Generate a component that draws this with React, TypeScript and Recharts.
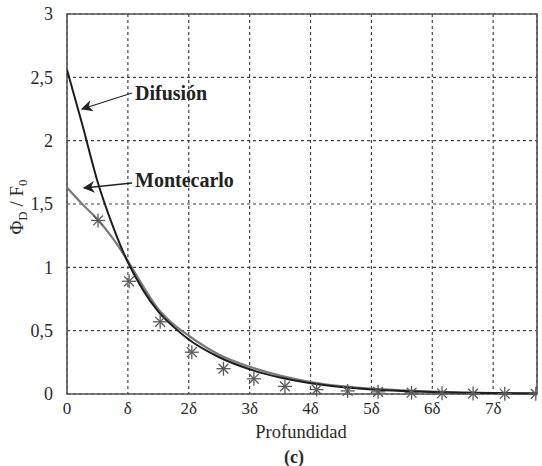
import { ComposedChart, Line, Scatter, XAxis, YAxis, CartesianGrid, ReferenceArea } from 'recharts';

// depth in units of delta
const difusionX = [0, 0.25, 0.5, 0.75, 1, 1.25, 1.5, 1.75, 2, 2.5, 3, 3.5, 4, 4.5, 5, 5.5, 6, 6.5, 7, 7.72];
const difusionY = [2.56, 2.13, 1.68, 1.33, 1.04, 0.82, 0.65, 0.53, 0.43, 0.29, 0.195, 0.13, 0.085, 0.056, 0.036, 0.024, 0.016, 0.01, 0.007, 0.004];

const fitX = [0, 0.25, 0.5, 0.75, 1, 1.25, 1.5, 1.75, 2, 2.5, 3, 3.5, 4, 4.5, 5, 5.5, 6, 6.5, 7, 7.72];
const fitY = [1.63, 1.5, 1.38, 1.23, 1.05, 0.85, 0.67, 0.55, 0.46, 0.31, 0.215, 0.145, 0.095, 0.062, 0.042, 0.028, 0.018, 0.012, 0.008, 0.005];

const mcX = [0.51, 1.02, 1.53, 2.05, 2.57, 3.07, 3.58, 4.1, 4.61, 5.11, 5.66, 6.16, 6.67, 7.19, 7.7];
const mcY = [1.37, 0.89, 0.57, 0.33, 0.2, 0.12, 0.06, 0.035, 0.024, 0.017, 0.01, 0.006, 0.003, 0.002, 0.001];

const xTicks = [0, 1, 2, 3, 4, 5, 6, 7];
const yTicks = [0, 0.5, 1, 1.5, 2, 2.5, 3];

const difusion = difusionX.map((x, i) => ({ x, y: difusionY[i] }));
const fit = fitX.map((x, i) => ({ x, y: fitY[i] }));
const montecarlo = mcX.map((x, i) => ({ x, y: mcY[i] }));

const font = '"Liberation Serif", "DejaVu Serif", serif';
const ink = '#2a2a2a';

const xFmt = (v: number) => (v === 0 ? '0' : v === 1 ? 'δ' : `${v}δ`);
const yFmt = (v: number) => String(v).replace('.', ',');

const Star = (props: any) => {
  const { cx, cy } = props;
  const r = 7;
  const d = r * 0.7;
  return (
    <g stroke="#5a5a5a" strokeWidth={1.3}>
      <line x1={cx - r} y1={cy} x2={cx + r} y2={cy} />
      <line x1={cx} y1={cy - r} x2={cx} y2={cy + r} />
      <line x1={cx - d} y1={cy - d} x2={cx + d} y2={cy + d} />
      <line x1={cx - d} y1={cy + d} x2={cx + d} y2={cy - d} />
    </g>
  );
};

export default function App() {
  return (
    <div style={{ position: 'absolute', left: 0, top: 0, width: 542, height: 466, background: '#fff' }}>
      <ComposedChart width={542} height={466} margin={{ top: 14, right: 5, left: 0, bottom: 0 }}>
        <CartesianGrid stroke="#444" strokeDasharray="3 3" strokeWidth={1.2} />
        <XAxis
          dataKey="x"
          type="number"
          domain={[0, 7.72]}
          ticks={xTicks}
          tickFormatter={xFmt}
          height={72}
          tickLine={false}
          axisLine={false}
          tickMargin={2}
          tick={{ fill: ink, fontSize: 17, fontFamily: font }}
          allowDataOverflow
        />
        <YAxis
          type="number"
          domain={[0, 3]}
          ticks={yTicks}
          tickFormatter={yFmt}
          width={67}
          tickLine={false}
          axisLine={false}
          tickMargin={8}
          tick={{ fill: ink, fontSize: 18, fontFamily: font }}
        />
        <ReferenceArea x1={0} x2={7.72} y1={0} y2={3} fill="none" stroke="#555" strokeWidth={1.6} ifOverflow="visible" />
        <Line data={fit} dataKey="y" type="monotone" stroke="#7a7a7a" strokeWidth={2.2} dot={false} isAnimationActive={false} />
        <Line data={difusion} dataKey="y" type="monotone" stroke="#1e1e1e" strokeWidth={2} dot={false} isAnimationActive={false} />
        <Scatter data={montecarlo} dataKey="y" shape={<Star />} isAnimationActive={false} />
      </ComposedChart>
      <svg width={542} height={466} style={{ position: 'absolute', left: 0, top: 0, pointerEvents: 'none' }}>
        <defs>
          <marker id="ah" viewBox="0 0 10 10" refX="9" refY="5" markerWidth="9" markerHeight="9" orient="auto">
            <path d="M0,0 L10,5 L0,10 L3,5 z" fill="#222" />
          </marker>
        </defs>
        <line x1={132} y1={93} x2={82} y2={109} stroke="#222" strokeWidth={1.3} markerEnd="url(#ah)" />
        <line x1={132} y1={183} x2={84} y2={188} stroke="#222" strokeWidth={1.3} markerEnd="url(#ah)" />
        <text x={135} y={100} fontFamily={font} fontSize={20} fontWeight="bold" fill="#222">Difusión</text>
        <text x={135} y={187} fontFamily={font} fontSize={20} fontWeight="bold" fill="#222">Montecarlo</text>
        <text transform="translate(23,207) rotate(-90)" textAnchor="middle" fontFamily={font} fontSize={19} fill={ink}>
          Φ<tspan fontSize={13} dy={4}>D</tspan>
          <tspan dy={-4}> / F</tspan>
          <tspan fontSize={13} dy={4}>0</tspan>
        </text>
        <text x={301} y={438} textAnchor="middle" fontFamily={font} fontSize={18.5} fill={ink}>Profundidad</text>
        <text x={294} y={463} textAnchor="middle" fontFamily={font} fontSize={18} fontWeight="bold" fill={ink}>(c)</text>
      </svg>
    </div>
  );
}
